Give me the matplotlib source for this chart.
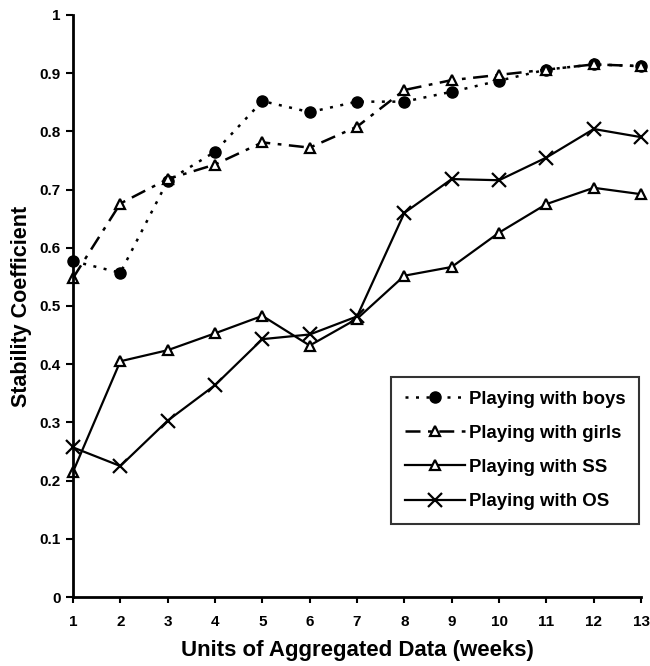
import matplotlib
matplotlib.use("Agg")
import matplotlib.pyplot as plt

plt.rcParams['font.family'] = ['Liberation Sans', 'DejaVu Sans']

weeks = list(range(1, 14))
boys = [0.577, 0.557, 0.715, 0.765, 0.852, 0.833, 0.851, 0.851, 0.868, 0.887, 0.906, 0.915, 0.912]
girls = [0.548, 0.676, 0.718, 0.743, 0.781, 0.772, 0.808, 0.871, 0.888, 0.897, 0.906, 0.915, 0.912]
ss = [0.215, 0.405, 0.424, 0.453, 0.483, 0.432, 0.478, 0.552, 0.567, 0.626, 0.675, 0.703, 0.692]
os_ = [0.257, 0.225, 0.303, 0.364, 0.443, 0.451, 0.482, 0.660, 0.718, 0.716, 0.755, 0.804, 0.790]

xticks = list(range(1, 14))
yticks = [0, 0.1, 0.2, 0.3, 0.4, 0.5, 0.6, 0.7, 0.8, 0.9, 1]
ytick_labels = ['0', '0.1', '0.2', '0.3', '0.4', '0.5', '0.6', '0.7', '0.8', '0.9', '1']

fig = plt.figure(figsize=(6.5, 6.66), dpi=100)
ax = fig.add_axes([0.1123, 0.1036, 0.874, 0.874])

ax.plot(weeks, boys, linestyle=(0, (1.2, 3)), color='black', lw=1.8,
        marker='o', ms=8, mfc='black', mec='black', label='Playing with boys', clip_on=False)
ax.plot(weeks, girls, linestyle=(0, (6, 3, 1.5, 3)), color='black', lw=1.8,
        marker='^', ms=7.5, mfc='white', mec='black', mew=1.6, label='Playing with girls', clip_on=False)
ax.plot(weeks, ss, linestyle='-', color='black', lw=1.6,
        marker='^', ms=7.5, mfc='white', mec='black', mew=1.6, label='Playing with SS', clip_on=False)
ax.plot(weeks, os_, linestyle='-', color='black', lw=1.6,
        marker='x', ms=10, mec='black', mew=1.6, label='Playing with OS', clip_on=False)

ax.set_xlim(1, 13)
ax.set_ylim(0, 1)
ax.spines['top'].set_visible(False)
ax.spines['right'].set_visible(False)
ax.spines['left'].set_linewidth(2)
ax.spines['bottom'].set_linewidth(2)
ax.set_xticks(xticks)
ax.set_xticklabels([str(x) for x in xticks], fontsize=11, fontweight='bold')
ax.set_yticks(yticks)
ax.set_yticklabels(ytick_labels, fontsize=11, fontweight='bold')
ax.tick_params(axis='x', direction='out', length=4, width=1.5, pad=9)
ax.tick_params(axis='y', direction='out', length=5, width=1.5, pad=4)
ax.set_xlabel('Units of Aggregated Data (weeks)', fontsize=16, fontweight='bold', labelpad=8)
ax.set_ylabel('Stability Coefficient', fontsize=15.5, fontweight='bold')
ax.yaxis.set_label_coords(-0.072, 0.5)

leg = ax.legend(loc='lower right', bbox_to_anchor=(0.9965, 0.1254), borderaxespad=0,
                prop={'size': 13.4, 'weight': 'bold'},
                frameon=True, fancybox=False, edgecolor='black', handlelength=3.2,
                handletextpad=0.2, borderpad=0.75, labelspacing=0.92)
leg.get_frame().set_linewidth(1.5)

fig.savefig('out.png', dpi=100)
